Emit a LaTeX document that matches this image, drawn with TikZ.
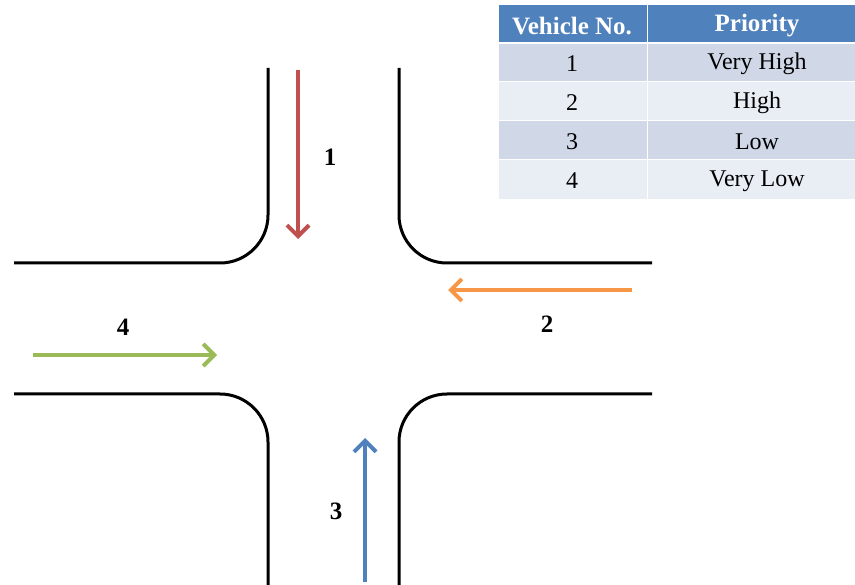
\documentclass[tikz,border=0pt]{standalone}
\usepackage{fontspec}
\setmainfont{Liberation Serif}
\usetikzlibrary{arrows.meta}
\definecolor{hdrblue}{HTML}{4F81BD}
\definecolor{rowdark}{HTML}{D0D8E8}
\definecolor{rowlight}{HTML}{E9EDF4}
\definecolor{redarrow}{HTML}{C0504D}
\definecolor{orangearrow}{HTML}{F79646}
\definecolor{greenarrow}{HTML}{9BBB59}
\definecolor{bluearrow}{HTML}{4F81BD}
\begin{document}
\begin{tikzpicture}[x=1pt,y=-1pt,
  road/.style={line width=3pt,rounded corners=48pt},
  lane/.style={line width=4pt,-{Straight Barb[length=11pt,width=22pt]}},
  lbl/.style={font=\fontsize{25}{25}\selectfont\bfseries},
  cell/.style={font=\fontsize{24}{24}\selectfont},
  hcell/.style={font=\fontsize{25}{25}\selectfont\bfseries,text=white}]
\useasboundingbox (0,0) rectangle (855,585);
\fill[white] (0,0) rectangle (855,585);

% road kerbs
\draw[road] (268,68) -- (268,263) -- (14,263);
\draw[road] (399,68) -- (399,263) -- (652,263);
\draw[road] (14,394) -- (268,394) -- (268,585);
\draw[road] (652,394) -- (399,394) -- (399,585);

% vehicle paths
\coordinate (r0) at (298,70);  \coordinate (r1) at (298,239);
\coordinate (o0) at (632,290); \coordinate (o1) at (448,290);
\coordinate (g0) at (33,355);  \coordinate (g1) at (217,355);
\coordinate (b0) at (365,582); \coordinate (b1) at (365,438);
\draw[lane,redarrow] (r0) -- (r1);
\draw[lane,orangearrow] (o0) -- (o1);
\draw[lane,greenarrow] (g0) -- (g1);
\draw[lane,bluearrow] (b0) -- (b1);

\node[lbl] (l1) at (330,157) {1};
\node[lbl] (l2) at (547,324) {2};
\node[lbl] (l3) at (336,511) {3};
\node[lbl] (l4) at (123,327) {4};

% priority table
\fill[hdrblue] (499,5) rectangle (855,43);
\fill[rowdark] (499,43) rectangle (855,82);
\fill[rowlight] (499,82) rectangle (855,121);
\fill[rowdark] (499,121) rectangle (855,160);
\fill[rowlight] (499,160) rectangle (855,199);
\draw[white,line width=2.5pt] (499,43) -- (855,43);
\foreach \yy in {82,121,160} \draw[white,line width=1pt] (499,\yy) -- (855,\yy);
\draw[white,line width=1pt] (647,5) -- (647,199);

\node[hcell] (h1) at (572,26) {Vehicle No.};
\node[hcell] (h2) at (757,26) {Priority};
\node[cell] (a1) at (572,64) {1};
\node[cell] (b1t) at (757,64) {Very High};
\node[cell] (a2) at (572,103) {2};
\node[cell] (b2t) at (757,103) {High};
\node[cell] (a3) at (572,142) {3};
\node[cell] (b3t) at (757,142) {Low};
\node[cell] (a4) at (572,181) {4};
\node[cell] (b4t) at (757,181) {Very Low};
\end{tikzpicture}
\end{document}
